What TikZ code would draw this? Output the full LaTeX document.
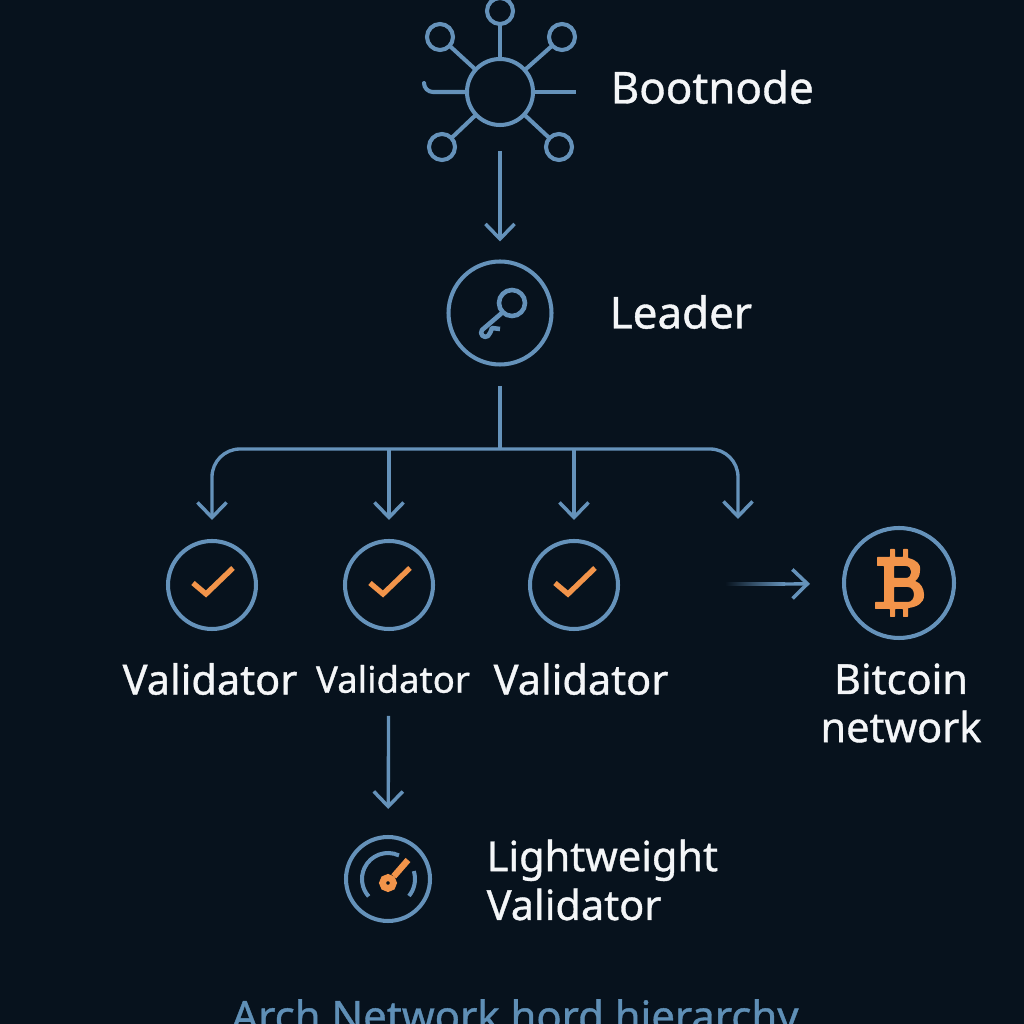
\documentclass[tikz,border=0pt]{standalone}
\usepackage{fontspec}
\setmainfont{Noto Sans}[FakeBold=0.9]
\usetikzlibrary{arrows.meta}
\definecolor{bgdark}{HTML}{07121D}
\definecolor{edgeblue}{HTML}{6592BA}
\definecolor{titleblue}{HTML}{5F8FB6}
\definecolor{coinorange}{HTML}{F2944A}
\definecolor{labelwhite}{HTML}{F4F6F8}
\tikzset{
    ring/.style={circle, draw=edgeblue, line width=1.15pt, inner sep=0pt, outer sep=0pt},
    flow/.style={draw=edgeblue, line width=0.95pt, -{Straight Barb[length=1.5mm, width=2.9mm, line width=1pt]}},
    link/.style={draw=edgeblue, line width=1.15pt},
    tick/.style={draw=coinorange, line width=1.5pt},
    tag/.style={text=labelwhite, font=\fontsize{11.8}{13.9}\selectfont, align=left, inner sep=0pt},
}
\begin{document}
\begin{tikzpicture}[scale=1]
    \useasboundingbox (0,0) rectangle (10.24,10.24);
    \fill[bgdark] (0,0) rectangle (10.24,10.24);

    % bootnode
    \node[ring, minimum size=0.66cm] (boot) at (5.00,9.32) {};
    \node[ring, minimum size=0.26cm] (sattop) at (5.00,10.13) {};
    \node[ring, minimum size=0.26cm] (satul) at (4.40,9.87) {};
    \node[ring, minimum size=0.26cm] (satur) at (5.62,9.87) {};
    \node[ring, minimum size=0.26cm] (satll) at (4.42,8.77) {};
    \node[ring, minimum size=0.26cm] (satlr) at (5.59,8.77) {};
    \foreach \sat in {sattop,satul,satur,satll,satlr}
        \draw[link] (boot) -- (\sat);
    \coordinate (stubl) at (4.24,9.41);
    \coordinate (stubr) at (5.76,9.32);
    \draw[link, line cap=round] (boot.west) -- (4.33,9.32) to[out=180, in=-90] (stubl);
    \draw[link] (boot.east) -- (stubr);
    \node[tag, anchor=west, font=\fontsize{12.5}{14}\selectfont] (bootlab) at (6.10,9.37) {Bootnode};

    % leader
    \node[ring, minimum size=1.03cm] (leader) at (5.00,7.11) {};
    \node[ring, minimum size=0.26cm, line width=1.3pt] (keyring) at (5.12,7.21) {};
    \draw[link, line width=1.3pt, line join=round] (keyring.225) -- (4.82,6.94) .. controls (4.79,6.90) and (4.84,6.85) .. (4.88,6.88) .. controls (4.90,6.90) and (4.91,6.93) .. (4.92,6.96) -- (5.00,6.95);
    \node[tag, anchor=west, font=\fontsize{12.5}{14}\selectfont] (leadlab) at (6.09,7.12) {Leader};
    \draw[flow, shorten <=0.26cm, shorten >=0.20cm] (boot) -- (leader);

    % validators and bitcoin
    \node[ring, minimum size=0.88cm] (val1) at (2.12,4.39) {};
    \node[ring, minimum size=0.88cm] (val2) at (3.89,4.39) {};
    \node[ring, minimum size=0.88cm] (val3) at (5.74,4.39) {};
    \node[ring, minimum size=1.10cm] (btc) at (8.99,4.41) {};
    \foreach \val in {val1,val2,val3}
        \draw[tick] ([shift={(-0.19,0.02)}]\val.center) -- ++(0.13,-0.11) -- ++(0.27,0.26);
    \node[tag] (val1lab) at (2.10,3.45) {Validator};
    \node[tag, font=\fontsize{10.4}{12}\selectfont] (val2lab) at (3.93,3.45) {Validator};
    \node[tag] (val3lab) at (5.81,3.45) {Validator};
    \node[tag, align=center, font=\fontsize{11.8}{13.7}\selectfont] (btclab) at (9.01,3.21) {Bitcoin\\network};

    % bus
    \coordinate (busmid) at (5.00,5.75);
    \coordinate (busend) at (7.38,5.05);
    \draw[link, shorten <=0.22cm] (leader) -- (busmid);
    \draw[flow, rounded corners=0.28cm, shorten >=0.21cm] (busmid) -| (val1);
    \draw[flow, rounded corners=0.28cm] (busmid) -| (busend);
    \draw[flow, shorten >=0.21cm] (busmid -| val2) -- (val2);
    \draw[flow, shorten >=0.21cm] (busmid -| val3) -- (val3);

    % fading arrow into bitcoin
    \coordinate (fadel) at (7.25,4.40);
    \coordinate (fadem) at (7.85,4.40);
    \shade[left color=bgdark, right color=edgeblue] ([yshift=-0.015cm]fadel) rectangle ([yshift=0.015cm]fadem);
    \draw[flow, shorten >=0.34cm] (fadem) -- (btc);

    % bitcoin sign
    \fill[coinorange, even odd rule, rounded corners=0.2pt]
        (8.77,4.67) -- (8.90,4.67) -- (8.90,4.75) -- (8.95,4.75) -- (8.95,4.67) -- (9.03,4.67) -- (9.03,4.75) -- (9.08,4.75) -- (9.08,4.66)
        .. controls (9.17,4.64) and (9.21,4.59) .. (9.20,4.54) .. controls (9.20,4.49) and (9.18,4.45) .. (9.15,4.43)
        .. controls (9.21,4.41) and (9.24,4.35) .. (9.24,4.29) .. controls (9.24,4.21) and (9.17,4.17) .. (9.08,4.16)
        -- (9.08,4.07) -- (9.03,4.07) -- (9.03,4.15) -- (8.95,4.15) -- (8.95,4.07) -- (8.90,4.07) -- (8.90,4.15) -- (8.75,4.15) -- (8.75,4.22) -- (8.84,4.22) -- (8.84,4.58) -- (8.77,4.58) -- cycle
        (8.94,4.58) -- (9.05,4.58) .. controls (9.13,4.58) and (9.13,4.46) .. (9.05,4.46) -- (8.94,4.46) -- cycle
        (8.94,4.37) -- (9.07,4.37) .. controls (9.16,4.37) and (9.16,4.22) .. (9.07,4.22) -- (8.94,4.22) -- cycle;

    % lightweight validator
    \node[ring, minimum size=0.84cm] (light) at (3.88,1.45) {};
    \draw[flow, shorten <=0.87cm, shorten >=0.28cm] (val2) -- (light);
    \draw[link] ([shift={(65:0.26)}]light.center) arc[start angle=65, end angle=222, radius=0.26];
    \draw[link] ([shift={(17:0.27)}]light.center) arc[start angle=17, end angle=-39, radius=0.27];
    \node[circle, draw=coinorange, line width=1.9pt, minimum size=0.11cm, inner sep=0pt] (needlehub) at (3.88,1.41) {};
    \draw[tick, line width=1.8pt] (needlehub) -- (4.08,1.64);
    \node[tag, anchor=west] (lightlab) at (4.86,1.44) {Lightweight\\Validator};

    % title
    \node[text=titleblue, font=\fontsize{11.9}{14}\selectfont, anchor=base, inner sep=0pt] (title) at (5.15,-0.07) {Arch Network hord hierarchy};
\end{tikzpicture}
\end{document}
